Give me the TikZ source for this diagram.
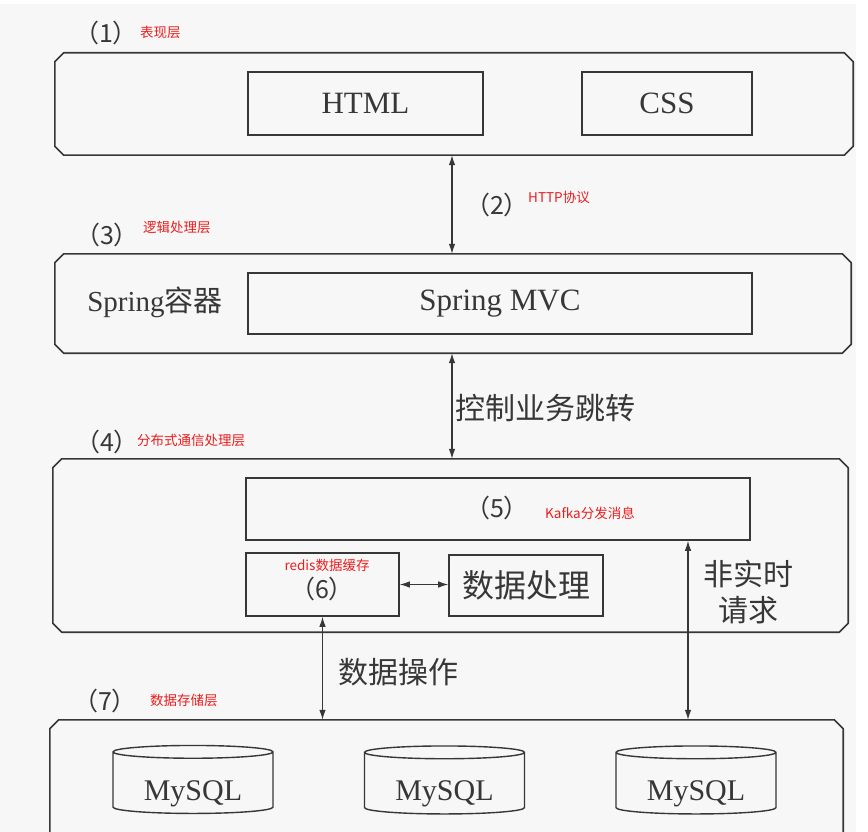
\documentclass[tikz,border=0pt]{standalone}
\usepackage{fontspec}
\setmainfont{Liberation Serif}
\newfontfamily\cjk{Noto Sans CJK SC}
\usetikzlibrary{shapes.geometric,arrows.meta,calc}
\definecolor{ink}{RGB}{55,55,55}
\definecolor{lbl}{RGB}{235,30,30}
\definecolor{bg}{RGB}{247,247,247}
\tikzset{
  layer/.style={rectangle, draw=none, inner sep=0pt},
  chamf/.style={draw=ink, line width=1.6pt, line join=round},
  inbox/.style={rectangle, draw=ink, line width=1.6pt, inner sep=0pt},
  db/.style={cylinder, shape border rotate=90, draw=ink, line width=1.4pt, aspect=0.13, inner sep=0pt, minimum width=160pt, minimum height=68pt, font=\fontsize{30}{30}\selectfont, text=ink},
  dbl/.style={draw=ink, line width=1.1pt, {Latex[length=10pt,width=6.5pt]}-{Latex[length=10pt,width=6.5pt]}},
  gtext/.style={text=ink, inner sep=0pt},
  rtext/.style={text=lbl, inner sep=0pt, anchor=west, font=\cjk\fontsize{13.5}{14}\selectfont},
  num/.style={text=ink, inner sep=0pt, font=\cjk\fontsize{25}{25}\selectfont}
}
\newcommand\chamferbox[1]{%
  \draw[chamf] ($(#1.north west)+(9,0)$) -- ($(#1.north east)+(-9,0)$) -- ($(#1.north east)+(0,9)$)
    -- ($(#1.south east)+(0,-9)$) -- ($(#1.south east)+(-9,0)$) -- ($(#1.south west)+(9,0)$)
    -- ($(#1.south west)+(0,-9)$) -- ($(#1.north west)+(0,9)$) -- cycle;}
\newcommand\dbtext{\raisebox{-17pt}[0pt][0pt]{MySQL}}
\begin{document}
\begin{tikzpicture}[x=1pt,y=-1pt]
\useasboundingbox (0,0) rectangle (868,832);
\clip (0,0) rectangle (868,832);
\fill[white] (0,0) rectangle (868,832);
\fill[bg] (0,4) rectangle (856,832);

% layers
\node[layer, minimum width=798pt, minimum height=102pt] (L1) at (454,104) {};
\node[layer, minimum width=796pt, minimum height=99pt] (L3) at (453,303.5) {};
\node[layer, minimum width=795pt, minimum height=173pt] (L4) at (450.5,545.5) {};
\node[layer, minimum width=793pt, minimum height=130pt] (L7) at (446.5,785) {};
\chamferbox{L1}
\chamferbox{L3}
\chamferbox{L4}
\chamferbox{L7}

% inner boxes
\node[inbox, minimum width=235pt, minimum height=63pt, font=\fontsize{31}{31}\selectfont, text=ink] (html) at (365.5,103.5) {HTML};
\node[inbox, minimum width=170pt, minimum height=63pt, font=\fontsize{31}{31}\selectfont, text=ink] (css) at (667,103.5) {CSS};
\node[inbox, minimum width=504pt, minimum height=61pt, font=\fontsize{31}{31}\selectfont, text=ink] (mvc) at (500,303.5) {Spring MVC};
\node[inbox, minimum width=504pt, minimum height=62pt] (k5) at (498,509) {};
\node[inbox, minimum width=153pt, minimum height=63pt] (r6) at (322.5,584.5) {};
\node[inbox, minimum width=154pt, minimum height=61pt, font=\cjk\fontsize{32}{32}\selectfont, text=ink] (dp) at (526,585.5) {数据处理};

% databases
\node[db] (c1) at (193,783) {\dbtext};
\node[db] (c2) at (444.5,783.5) {\dbtext};
\node[db] (c3) at (696,783.5) {\dbtext};

% labels
\node[num] (n1) at (106,33) {（1）};
\node[rtext] (r1) at (140,32) {表现层};
\node[num] (n2) at (497,205) {（2）};
\node[rtext] (r2) at (528,197) {HTTP协议};
\node[num] (n3) at (107,235) {（3）};
\node[rtext] (r3) at (143,227) {逻辑处理层};
\node[gtext, font=\fontsize{29}{29}\selectfont] (sc) at (155,302) {Spring{\cjk 容器}};
\node[gtext, anchor=west, font=\cjk\fontsize{30}{30}\selectfont] (ctl) at (455,408) {控制业务跳转};
\node[num] (n4) at (107,442) {（4）};
\node[rtext] (r4) at (137,440) {分布式通信处理层};
\node[num] (n5) at (497,508) {（5）};
\node[rtext] (r5) at (545,513) {Kafka分发消息};
\node[text=lbl, inner sep=0pt, font=\cjk\fontsize{13.5}{14}\selectfont] (r6l) at (327,565) {redis数据缓存};
\node[num] (n6) at (322,589) {（6）};
\node[gtext, align=center, font=\cjk\fontsize{30}{36}\selectfont] (fs) at (748,592) {非实时\\请求};
\node[gtext, anchor=west, font=\cjk\fontsize{30}{30}\selectfont] (ops) at (338,672) {数据操作};
\node[num] (n7) at (105,701) {（7）};
\node[rtext] (r7) at (150,700) {数据存储层};

% connectors
\coordinate (xa) at (452,0);
\coordinate (xb) at (688,0);
\draw[dbl] (L1.south -| xa) -- (L3.north -| xa);
\draw[dbl] (L3.south -| xa) -- (L4.north -| xa);
\draw[dbl] (r6.east) -- (r6.east -| dp.west);
\draw[dbl] (r6.south) -- (r6.south |- L7.north);
\draw[dbl] (k5.south -| xb) -- (L7.north -| xb);
\end{tikzpicture}
\end{document}
